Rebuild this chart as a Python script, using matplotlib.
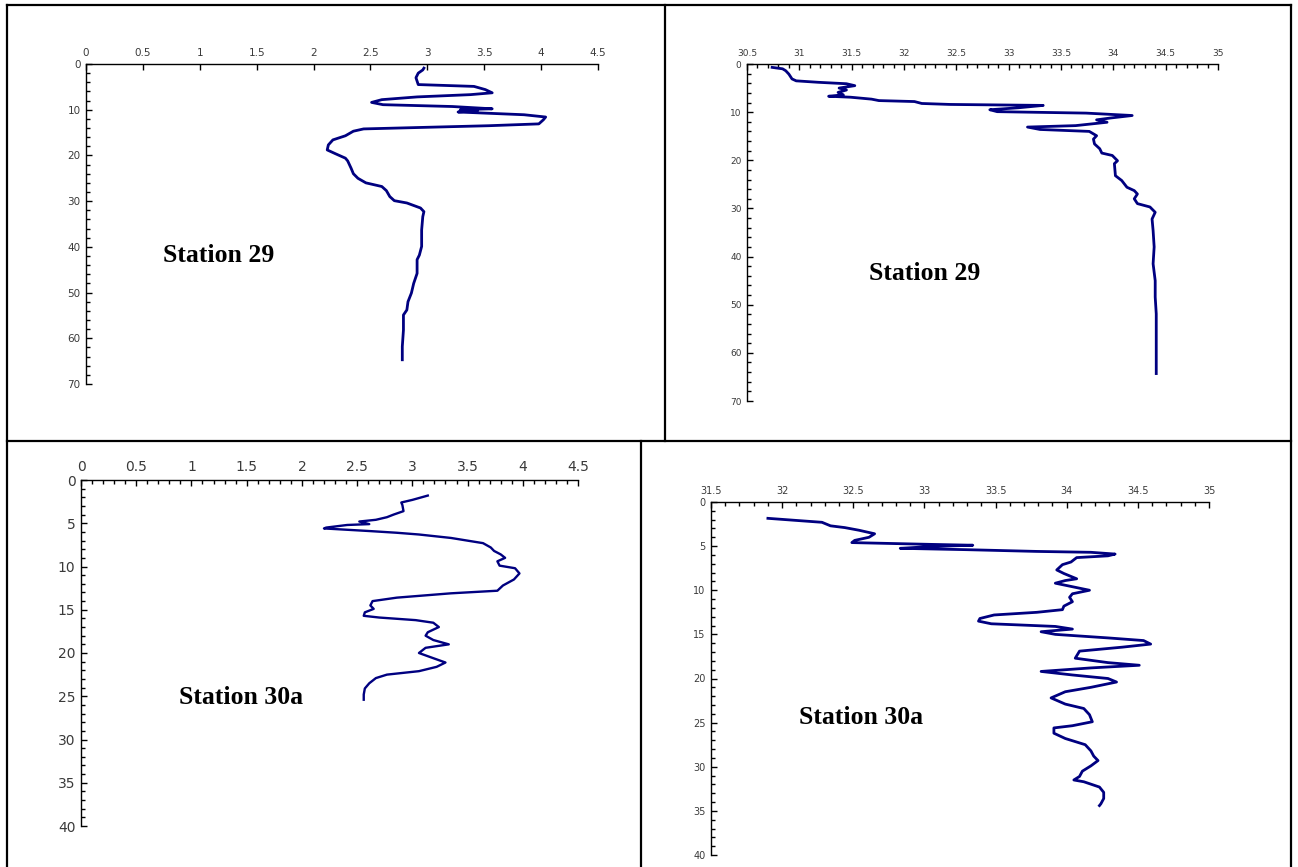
import matplotlib
matplotlib.use("Agg")
import matplotlib.pyplot as plt
from matplotlib.lines import Line2D
from matplotlib.ticker import MultipleLocator

# Station 29, first profile (depth, value)
st29a_depth = [0.9, 1.3, 2.0, 3.0, 4.5, 4.9, 5.6, 6.3, 6.7, 7.2, 7.8, 8.4, 8.9, 9.3, 9.8, 10.0,
               10.2, 10.5, 11.1, 11.6, 12.2, 13.1, 13.5, 13.9, 14.2, 14.7, 15.7, 16.6, 17.7,
               18.8, 19.6, 20.6, 21.2, 22.8, 24.0, 25.0, 26.0, 26.8, 27.7, 29.0, 29.9, 30.4,
               31.5, 32.3, 33.4, 36.3, 39.9, 41.8, 42.8, 45.8, 48.0, 50.1, 52.0, 53.8, 54.9,
               58.2, 61.8, 64.7]
st29a_val = [2.97, 2.96, 2.92, 2.90, 2.92, 3.41, 3.51, 3.57, 3.38, 2.91, 2.60, 2.51, 2.61, 3.22,
             3.57, 3.29, 3.44, 3.27, 3.85, 4.04, 4.02, 3.98, 3.54, 2.91, 2.44, 2.35, 2.28, 2.17,
             2.13, 2.12, 2.19, 2.28, 2.30, 2.33, 2.35, 2.39, 2.46, 2.60, 2.64, 2.67, 2.71, 2.82,
             2.94, 2.97, 2.96, 2.95, 2.95, 2.93, 2.91, 2.91, 2.88, 2.86, 2.83, 2.82, 2.79,
             2.79, 2.78, 2.78]

# Station 29, second profile
st29b_depth = [0.7, 1.0, 1.4, 2.1, 3.1, 3.5, 3.8, 4.1, 4.5, 5.0, 5.4, 5.9, 6.4, 6.7, 6.9, 7.3,
               7.6, 7.8, 8.2, 8.4, 8.6, 9.1, 9.5, 9.9, 10.2, 10.7, 11.2, 11.6, 12.1, 12.8, 13.1,
               13.6, 14.0, 14.9, 15.6, 16.6, 17.6, 18.5, 19.0, 20.1, 20.7, 23.2, 24.2, 25.6,
               26.3, 27.0, 28.0, 29.0, 29.7, 30.8, 32.2, 34.6, 38.0, 41.5, 45.0, 48.4, 51.9,
               55.3, 59.5, 64.3]
st29b_val = [30.74, 30.84, 30.87, 30.90, 30.93, 30.97, 31.18, 31.45, 31.53, 31.38, 31.45, 31.37,
             31.42, 31.28, 31.49, 31.69, 31.76, 32.10, 32.17, 32.44, 33.33, 33.09, 32.82, 32.89,
             33.74, 34.18, 33.98, 33.84, 33.94, 33.64, 33.18, 33.30, 33.77, 33.84, 33.81, 33.82,
             33.87, 33.89, 33.99, 34.04, 34.01, 34.02, 34.08, 34.13, 34.20, 34.23, 34.20, 34.23,
             34.35, 34.40, 34.37, 34.38, 34.39, 34.38, 34.40, 34.40, 34.41, 34.41, 34.41, 34.41]

# Station 30a, first profile
st30a_depth = [1.8, 2.3, 2.6, 2.9, 3.6, 4.0, 4.3, 4.6, 4.8, 5.1, 5.2, 5.5, 5.6, 5.9, 6.1, 6.3,
               6.7, 7.3, 7.8, 8.2, 8.6, 9.0, 9.4, 9.9, 10.2, 10.8, 11.5, 12.2, 12.8, 13.1, 13.6,
               14.0, 14.5, 14.9, 15.3, 15.7, 15.9, 16.2, 16.5, 17.0, 17.6, 18.0, 18.5, 19.0,
               19.4, 20.0, 20.6, 21.1, 21.6, 22.1, 22.5, 22.9, 23.5, 24.1, 24.8, 25.4]
st30a_val = [3.14, 3.00, 2.90, 2.91, 2.92, 2.83, 2.77, 2.67, 2.52, 2.61, 2.41, 2.22, 2.20, 2.61,
             2.86, 3.06, 3.35, 3.64, 3.71, 3.74, 3.80, 3.84, 3.77, 3.79, 3.93, 3.97, 3.92, 3.82,
             3.77, 3.35, 2.86, 2.64, 2.62, 2.65, 2.57, 2.56, 2.70, 3.03, 3.19, 3.24, 3.14, 3.12,
             3.19, 3.33, 3.12, 3.06, 3.19, 3.30, 3.22, 3.06, 2.77, 2.67, 2.61, 2.57, 2.56, 2.56]

# Station 30a, second profile
st30b_depth = [1.85, 2.1, 2.3, 2.5, 2.7, 2.9, 3.2, 3.6, 4.0, 4.35, 4.6, 4.8, 4.9, 5.05, 5.25,
               5.4, 5.6, 5.7, 5.9, 6.1, 6.3, 6.8, 7.1, 7.7, 8.1, 8.7, 8.9, 9.2, 9.6, 10.0, 10.4,
               10.8, 11.3, 11.8, 12.2, 12.5, 12.8, 13.2, 13.5, 13.8, 14.1, 14.4, 14.7, 15.0,
               15.4, 15.7, 16.1, 16.45, 16.9, 17.7, 18.2, 18.5, 18.8, 19.2, 19.6, 20.0, 20.4,
               21.0, 21.5, 22.2, 22.9, 23.4, 24.1, 24.9, 25.35, 25.6, 26.2, 26.8, 27.5, 28.2,
               28.8, 29.3, 29.9, 30.5, 31.1, 31.5, 31.7, 32.3, 32.9, 33.6, 34.2, 34.4]
st30b_val = [31.90, 32.11, 32.28, 32.31, 32.34, 32.44, 32.54, 32.65, 32.61, 32.51, 32.49, 33.04,
             33.34, 33.04, 32.83, 33.29, 33.79, 34.17, 34.34, 34.29, 34.07, 34.03, 33.97, 33.93,
             33.98, 34.07, 33.99, 33.92, 34.04, 34.16, 34.04, 34.02, 34.04, 33.98, 33.97, 33.79,
             33.49, 33.39, 33.38, 33.47, 33.92, 34.04, 33.82, 33.92, 34.29, 34.54, 34.59, 34.39,
             34.09, 34.06, 34.29, 34.51, 34.17, 33.82, 34.04, 34.29, 34.35, 34.17, 33.99, 33.89,
             33.99, 34.12, 34.16, 34.18, 34.04, 33.91, 33.91, 33.99, 34.13, 34.17, 34.19, 34.22,
             34.17, 34.11, 34.09, 34.05, 34.12, 34.23, 34.26, 34.26, 34.24, 34.23]

W, H = 1298, 867
fig = plt.figure(figsize=(W / 100, H / 100), dpi=100)


def px_axes(x0, x1, y0, y1):
    # axes box from pixel edges (top-left origin)
    return fig.add_axes([x0 / W, 1 - y1 / H, (x1 - x0) / W, (y1 - y0) / H])


def style(ax, xlim, ylim, xmaj, xmin, ymaj, ymin, fs):
    ax.set_xlim(*xlim)
    ax.set_ylim(ylim[1], ylim[0])
    ax.xaxis.tick_top()
    ax.xaxis.set_major_locator(MultipleLocator(xmaj))
    ax.yaxis.set_major_locator(MultipleLocator(ymaj))
    if xmin:
        ax.xaxis.set_minor_locator(MultipleLocator(xmin))
    if ymin:
        ax.yaxis.set_minor_locator(MultipleLocator(ymin))
    for s in ['right', 'bottom']:
        ax.spines[s].set_visible(False)
    for s in ['left', 'top']:
        ax.spines[s].set_linewidth(1.0)
    ax.tick_params(which='major', direction='in', length=4, width=1.0,
                   labelsize=fs, labelcolor='#3a3a3a', pad=4)
    ax.tick_params(which='minor', direction='in', length=3, width=1.0)
    ax.patch.set_alpha(0)
    fmt = plt.FuncFormatter(lambda v, p: '%g' % v)
    ax.xaxis.set_major_formatter(fmt)
    ax.yaxis.set_major_formatter(fmt)


navy = '#000080'
label_font = dict(family='Liberation Serif', fontweight='bold', fontsize=18.5, color='black')

ax1 = px_axes(86, 598, 64, 384)
ax1.plot(st29a_val, st29a_depth, color=navy, lw=2.0)
style(ax1, (0, 4.5), (0, 70), 0.5, None, 10, 2, 7.5)

ax2 = px_axes(747, 1218, 64, 401)
ax2.plot(st29b_val, st29b_depth, color=navy, lw=2.0)
style(ax2, (30.5, 35), (0, 70), 0.5, 0.1, 10, 2, 6.5)

ax3 = px_axes(81, 578, 480, 826)
ax3.plot(st30a_val, st30a_depth, color=navy, lw=1.7)
style(ax3, (0, 4.5), (0, 40), 0.5, 0.1, 5, 1, 10)

ax4 = px_axes(711, 1209, 502, 855)
ax4.plot(st30b_val, st30b_depth, color=navy, lw=2.0)
style(ax4, (31.5, 35), (0, 40), 0.5, 0.1, 5, 1, 7)

for (x, y, t) in [(219, 255, 'Station 29'), (925, 274, 'Station 29'),
                  (241, 697, 'Station 30a'), (861, 717, 'Station 30a')]:
    fig.text(x / W, 1 - y / H, t, ha='center', va='center', **label_font)

# table grid lines
def seg(x0, y0, x1, y1):
    fig.add_artist(Line2D([x0 / W, x1 / W], [1 - y0 / H, 1 - y1 / H],
                          transform=fig.transFigure, color='black', lw=1.6))

seg(7, 5, 1291, 5)
seg(7, 5, 7, 867)
seg(1291, 5, 1291, 867)
seg(7, 441, 1291, 441)
seg(665, 5, 665, 441)
seg(641, 441, 641, 867)

fig.savefig('out.png', dpi=100)
